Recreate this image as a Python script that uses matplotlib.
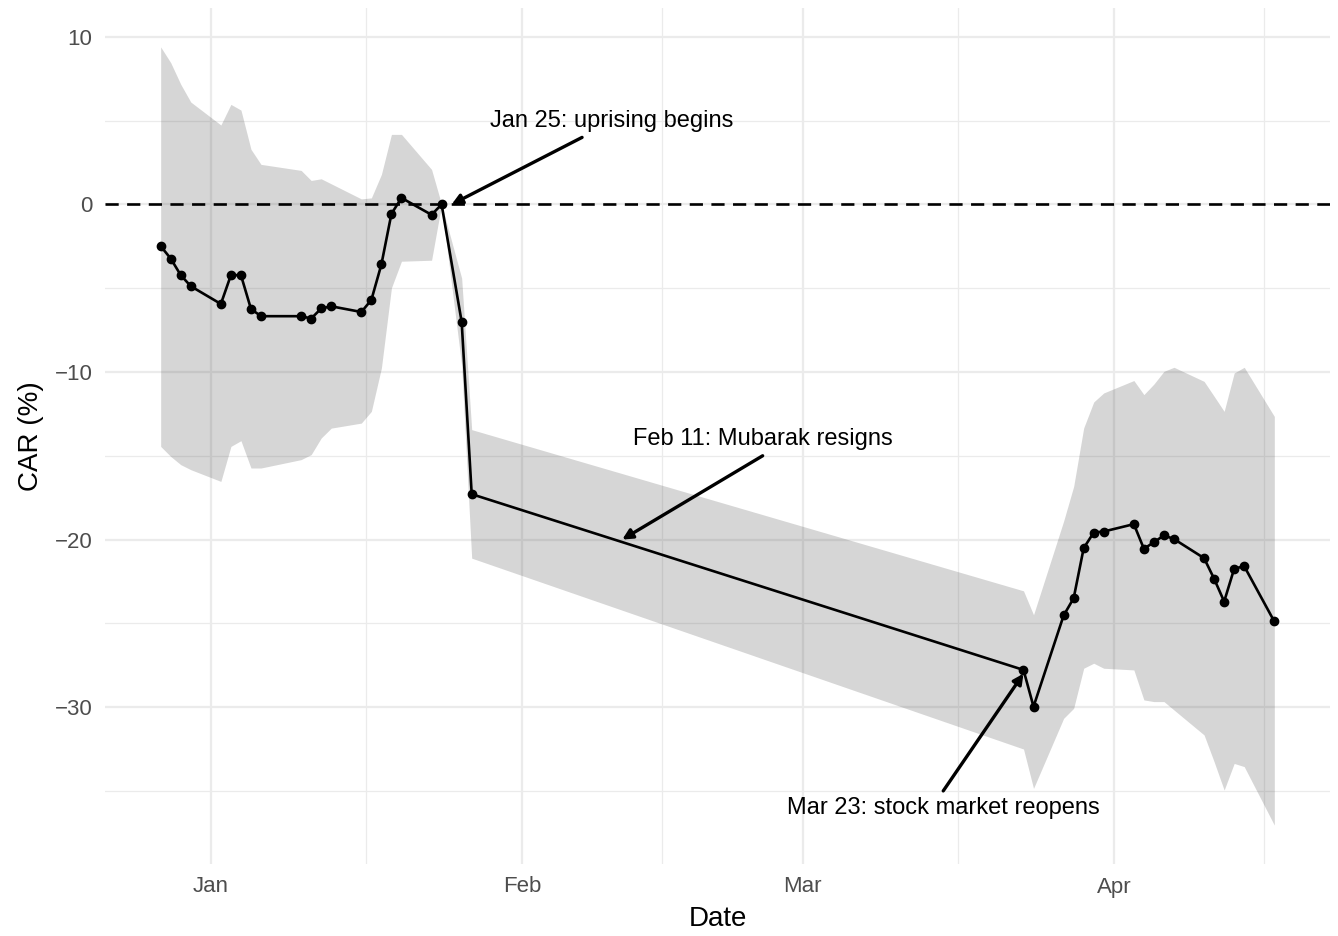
import matplotlib
matplotlib.use("Agg")
import matplotlib.pyplot as plt
import matplotlib.dates as mdates
import numpy as np
import pandas as pd

plt.rcParams['font.family'] = ['Liberation Sans', 'DejaVu Sans']

# trading days around the 2011 Egyptian uprising
dates = pd.to_datetime([
    "2010-12-27", "2010-12-28", "2010-12-29", "2010-12-30",
    "2011-01-02", "2011-01-03", "2011-01-04", "2011-01-05", "2011-01-06",
    "2011-01-10", "2011-01-11", "2011-01-12", "2011-01-13",
    "2011-01-16", "2011-01-17", "2011-01-18", "2011-01-19", "2011-01-20",
    "2011-01-23", "2011-01-24", "2011-01-26", "2011-01-27",
    "2011-03-23", "2011-03-24", "2011-03-27", "2011-03-28", "2011-03-29",
    "2011-03-30", "2011-03-31", "2011-04-03", "2011-04-04", "2011-04-05",
    "2011-04-06", "2011-04-07", "2011-04-10", "2011-04-11", "2011-04-12",
    "2011-04-13", "2011-04-14", "2011-04-17"])

car = [-2.49, -3.23, -4.22, -4.88,
       -5.94, -4.22, -4.22, -6.24, -6.67,
       -6.67, -6.81, -6.21, -6.08,
       -6.42, -5.70, -3.58, -0.56, 0.39,
       -0.62, 0.0, -7.01, -17.29,
       -27.78, -29.97, -24.53, -23.50, -20.51,
       -19.58, -19.52, -19.08, -20.55, -20.16,
       -19.75, -19.97, -21.11, -22.34, -23.70,
       -21.74, -21.59, -24.89]

car_upper = [9.40, 8.46, 7.17, 6.11,
             4.74, 5.97, 5.63, 3.29, 2.39,
             2.03, 1.43, 1.53, 1.23,
             0.33, 0.39, 1.79, 4.18, 4.18,
             2.09, 0.0, -4.4, -13.44,
             -23.06, -24.49, -18.9, -16.83, -13.34,
             -11.79, -11.25, -10.51, -11.35, -10.72,
             -9.96, -9.72, -10.56, -11.45, -12.35,
             -10.06, -9.72, -12.65]

car_lower = [-14.44, -15.04, -15.53, -15.83,
             -16.53, -14.44, -14.10, -15.73, -15.73,
             -15.23, -14.93, -13.94, -13.35,
             -13.05, -12.35, -9.76, -4.98, -3.39,
             -3.33, 0.0, -9.6, -21.11,
             -32.50, -34.85, -30.67, -30.07, -27.68,
             -27.38, -27.68, -27.78, -29.57, -29.67,
             -29.67, -30.17, -31.66, -33.26, -34.95,
             -33.36, -33.55, -37.04]

# annotations: text, text position, arrow start, arrow end
notes = [
    ("Jan 25: uprising begins", ("2011-02-10", 5), ("2011-02-07", 4), ("2011-01-25", 0)),
    ("Feb 11: Mubarak resigns", ("2011-02-25", -14), ("2011-02-25", -15), ("2011-02-11", -20)),
    ("Mar 23: stock market reopens", ("2011-03-15", -36), ("2011-03-15", -35), ("2011-03-23", -28)),
]

fig = plt.figure(figsize=(13.38, 9.36), dpi=100)
ax = fig.add_axes([105/1338, 1 - 864/936, 1225/1338, 856/936])

ax.fill_between(dates, car_lower, car_upper, color='#333333', alpha=0.2,
                linewidth=0, zorder=2)
ax.axhline(0, color='black', linestyle=(0, (5, 3.2)), linewidth=1.9, zorder=3)
ax.plot(dates, car, color='black', linewidth=1.9, zorder=4)
ax.plot(dates, car, 'o', color='black', markersize=6, zorder=5)

for label, txt, start, end in notes:
    ax.annotate('', xy=(pd.Timestamp(end[0]), end[1]),
                xytext=(pd.Timestamp(start[0]), start[1]),
                arrowprops=dict(arrowstyle='-|>', color='black', lw=2.4,
                                mutation_scale=15, shrinkA=0, shrinkB=0),
                zorder=6)
    ax.text(pd.Timestamp(txt[0]), txt[1], label, ha='center', va='center',
            fontsize=17, color='black', zorder=7)

# limits with 5% expansion like ggplot
x0 = mdates.date2num(dates.min())
x1 = mdates.date2num(dates.max())
xr = x1 - x0
ax.set_xlim(x0 - 0.05 * xr, x1 + 0.05 * xr)
lo = min(car_lower)
hi = max(car_upper)
yr = hi - lo
ax.set_ylim(lo - 0.05 * yr, hi + 0.05 * yr)

months = pd.to_datetime(["2011-01-01", "2011-02-01", "2011-03-01", "2011-04-01", "2011-05-01"])
mnum = mdates.date2num(months)
ax.set_xticks(mnum[:4])
ax.set_xticklabels(["Jan", "Feb", "Mar", "Apr"])
ax.set_xticks((mnum[:-1] + mnum[1:]) / 2, minor=True)
ax.set_yticks([-30, -20, -10, 0, 10])
ax.set_yticklabels(["\u221230", "\u221220", "\u221210", "0", "10"])
ax.set_yticks([-35, -25, -15, -5, 5], minor=True)

ax.grid(which='major', color='#EBEBEB', linewidth=1.6, zorder=0)
ax.grid(which='minor', color='#EBEBEB', linewidth=0.9, zorder=0)
ax.set_axisbelow(True)
for s in ax.spines.values():
    s.set_visible(False)
ax.tick_params(which='both', length=0)
ax.tick_params(axis='x', pad=9, labelsize=16, labelcolor='#4D4D4D')
ax.tick_params(axis='y', pad=9, labelsize=16, labelcolor='#4D4D4D')

ax.set_xlabel('Date', fontsize=20, labelpad=6)
ax.set_ylabel('CAR (%)', fontsize=20, labelpad=8)

fig.savefig('out.png', dpi=100)
